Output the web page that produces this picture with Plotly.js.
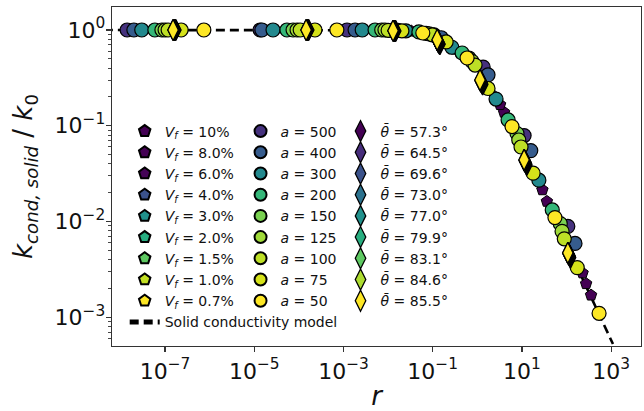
<!DOCTYPE html>
<html><head><meta charset="utf-8">
<script src="https://cdn.plot.ly/plotly-3.0.1.min.js"></script>
<style>html,body{margin:0;padding:0;background:#fff}#plot{width:644px;height:411px}</style>
</head><body><div id="plot"></div>
<script>
// ---- data ----
const modelR = [1e-9, 1e-3, 1e-2, 3.16e-2, 6.3e-2, 0.1, 0.158, 0.251, 0.398, 0.631, 1, 1.58, 2.51, 3.98, 6.31, 10, 31.6, 100, 316, 1100];
const modelK = [1, 1, 0.993, 0.977, 0.933, 0.881, 0.813, 0.708, 0.603, 0.501, 0.398, 0.282, 0.200, 0.138, 0.0912, 0.0575, 0.0182, 0.00575, 0.00182, 0.000525];

const vfLabels = ['10%', '8.0%', '6.0%', '4.0%', '3.0%', '2.0%', '1.5%', '1.0%', '0.7%'];
const vfR = [
  [4.3e-2, 0.41, 3.98, 36.3, 355],
  [3.3e-2, 0.316, 3.24, 28.8, 275],
  [2.7e-2, 0.27, 2.51, 24.0, 229],
  [2.0e-2, 0.20, 1.74, 17.8, 174],
  [2.5e-2, 0.269, 2.63, 24.0],
  [4.9e-2, 0.457, 4.9, 47.9],
  [7.1e-2, 0.646, 7.76, 72.4],
  [9.8e-2, 0.89, 9.55, 89.1],
  [6.0e-2, 0.59, 6.0, 55, 537]
];
const vfK = [
  [0.966, 0.575, 0.138, 0.0162, 0.0017],
  [0.973, 0.63, 0.166, 0.0214, 0.00224],
  [0.977, 0.66, 0.20, 0.027, 0.0029],
  [0.98, 0.75, 0.245, 0.032, 0.0033],
  [0.98, 0.66, 0.19, 0.027],
  [0.955, 0.575, 0.115, 0.0132],
  [0.92, 0.51, 0.083, 0.0095],
  [0.89, 0.43, 0.060, 0.0066],
  [0.93, 0.51, 0.098, 0.011, 0.0011]
];

const aLabels = ['500', '400', '300', '200', '150', '125', '100', '75', '50'];
const aR = [
  [1.41e-8, 1.35e-5, 1.20e-3, 1.17e-2, 0.107, 1.35, 11.2, 107],
  [2.0e-8, 1.48e-5, 1.82e-3, 1.66e-2, 0.155, 1.74, 15.8, 155],
  [3.0e-8, 2.63e-5, 2.63e-3, 2.51e-2, 0.269, 2.63, 24.0],
  [5.9e-8, 5.4e-5, 5.1e-3, 4.9e-2, 0.457, 4.9, 47.9],
  [8.5e-8, 7.4e-5, 7.2e-3, 7.1e-2, 0.646, 7.76, 72.4],
  [1.0e-7, 9.1e-5, 8.5e-3, 8.3e-2, 0.76, 8.5, 79.4],
  [1.17e-7, 1.07e-4, 1.0e-2, 9.8e-2, 0.89, 9.55, 89.1],
  [2.29e-7, 2.29e-4, 2.04e-2, 0.20, 1.74, 17.8, 174],
  [7.4e-7, 7.1e-4, 6.0e-2, 0.59, 6.0, 55, 537]
];
const aK = [
  [1, 1, 1, 0.993, 0.89, 0.41, 0.079, 0.0089],
  [1, 1, 1, 0.99, 0.83, 0.34, 0.055, 0.0059],
  [1, 1, 1, 0.98, 0.66, 0.19, 0.027],
  [1, 1, 1, 0.955, 0.575, 0.115, 0.0132],
  [1, 1, 1, 0.92, 0.51, 0.083, 0.0095],
  [1, 1, 1, 0.91, 0.47, 0.071, 0.0079],
  [1, 1, 0.993, 0.89, 0.43, 0.060, 0.0066],
  [1, 1, 0.98, 0.75, 0.245, 0.032, 0.0033],
  [1, 1, 0.93, 0.51, 0.098, 0.011, 0.0011]
];

const thLabels = ['57.3°', '64.5°', '69.6°', '73.0°', '77.0°', '79.9°', '83.1°', '84.6°', '85.5°'];
const thR = [
  [1.74e-7, 1.66e-4, 1.48e-2, 0.145, 1.32, 12.9, 123],
  [1.70e-7, 1.62e-4, 1.45e-2, 0.142, 1.30, 12.6, 120],
  [1.66e-7, 1.58e-4, 1.41e-2, 0.138, 1.27, 12.3, 118],
  [1.62e-7, 1.55e-4, 1.38e-2, 0.135, 1.24, 12.0, 115],
  [1.59e-7, 1.52e-4, 1.35e-2, 0.133, 1.21, 11.8, 113],
  [1.56e-7, 1.50e-4, 1.33e-2, 0.131, 1.19, 11.6, 111],
  [1.54e-7, 1.48e-4, 1.31e-2, 0.129, 1.17, 11.4, 109],
  [1.52e-7, 1.46e-4, 1.30e-2, 0.127, 1.16, 11.3, 108],
  [1.51e-7, 1.45e-4, 1.29e-2, 0.126, 1.15, 11.2, 107]
];
const thK = [
  [1, 1, 0.975, 0.71, 0.27, 0.039, 0.0042],
  [1, 1, 0.977, 0.72, 0.275, 0.040, 0.0043],
  [1, 1, 0.978, 0.73, 0.28, 0.041, 0.0044],
  [1, 1, 0.979, 0.745, 0.285, 0.042, 0.0045],
  [1, 1, 0.98, 0.755, 0.29, 0.042, 0.0045],
  [1, 1, 0.98, 0.765, 0.292, 0.043, 0.0046],
  [1, 1, 0.98, 0.775, 0.295, 0.043, 0.0046],
  [1, 1, 0.98, 0.78, 0.298, 0.044, 0.0047],
  [1, 1, 0.98, 0.79, 0.30, 0.044, 0.0047]
];

const xTickVals = [1e-7, 1e-5, 1e-3, 1e-1, 1e1, 1e3];
const xTickText = ['10<sup>−7</sup>', '10<sup>−5</sup>', '10<sup>−3</sup>', '10<sup>−1</sup>', '10<sup>1</sup>', '10<sup>3</sup>'];
const yTickVals = [1e-3, 1e-2, 1e-1, 1];
const yTickText = ['10<sup>−3</sup>', '10<sup>−2</sup>', '10<sup>−1</sup>', '10<sup>0</sup>'];

// ---- styles ----
const vfColors = ['#440154', '#440154', '#450457', '#3b528b', '#21918c', '#27ad81', '#5ec962', '#c2df23', '#fde725'];
const aColors = ['#46327e', '#365c8d', '#23898e', '#35b779', '#7ad151', '#a0da39', '#bddf26', '#d5e21a', '#fde725'];
const thColors = ['#440154', '#472d7b', '#3b528b', '#2c728e', '#21918c', '#28ae80', '#5ec962', '#addc30', '#fde725'];
const FONT = 'DejaVu Sans, sans-serif';

const traces = [];
traces.push({
  x: modelR, y: modelK, mode: 'lines', name: 'Solid conductivity model',
  line: {color: '#000', width: 2.6, dash: '9px,5px'},
  legend: 'legend', legendrank: 2000
});
vfLabels.forEach((lab, i) => traces.push({
  x: vfR[i], y: vfK[i], mode: 'markers', name: '<i>V</i><sub><i>f</i></sub> = ' + lab,
  marker: {symbol: 'pentagon', size: 12, color: vfColors[i], line: {color: '#000', width: 1}},
  legend: 'legend', legendrank: 1000
}));
aLabels.forEach((lab, i) => traces.push({
  x: aR[i], y: aK[i], mode: 'markers', name: '<i>a</i> = ' + lab,
  marker: {symbol: 'circle', size: 14, color: aColors[i], line: {color: '#000', width: 1.2}},
  legend: 'legend2'
}));
thLabels.forEach((lab, i) => traces.push({
  x: thR[i], y: thK[i], mode: 'markers', name: '<i>θ̄</i> = ' + lab,
  marker: {symbol: 'diamond-tall', size: 15, color: thColors[i], line: {color: '#000', width: 1.3}},
  legend: 'legend3'
}));

const legBase = {
  bgcolor: 'rgba(0,0,0,0)', borderwidth: 0, xanchor: 'left', yanchor: 'top',
  font: {family: FONT, size: 14, color: '#111'}, tracegroupgap: 0, itemsizing: 'constant'
};
const layout = {
  width: 644, height: 411,
  margin: {l: 112, r: 3, t: 7, b: 65},
  paper_bgcolor: '#fff', plot_bgcolor: '#fff',
  font: {family: FONT, color: '#111'},
  showlegend: true,
  xaxis: {
    type: 'log', range: [-8.19, 3.67],
    tickvals: xTickVals, ticktext: xTickText,
    ticks: 'outside', ticklen: 5, tickwidth: 1.2, tickcolor: '#333',
    showline: true, linecolor: '#333', linewidth: 1.3, mirror: true,
    showgrid: false, zeroline: false,
    tickfont: {family: FONT, size: 22, color: '#111'},
    title: {text: '<i>r</i>', font: {family: FONT, size: 26, color: '#111'}, standoff: 8}
  },
  yaxis: {
    type: 'log', range: [-3.30, 0.24],
    tickvals: yTickVals, ticktext: yTickText,
    ticks: 'outside', ticklen: 5, tickwidth: 1.2, tickcolor: '#333',
    ticklabelstandoff: -4,
    minor: {ticks: 'outside', ticklen: 3, tickwidth: 0.9, tickcolor: '#333', dtick: 'D1', showgrid: false},
    showline: true, linecolor: '#333', linewidth: 1.3, mirror: true,
    showgrid: false, zeroline: false,
    tickfont: {family: FONT, size: 22, color: '#111'},
    title: {text: '<i>k</i><sub><i>cond, solid</i></sub> / <i>k</i><sub>0</sub>', font: {family: FONT, size: 26, color: '#111'}, standoff: 14}
  },
  legend: Object.assign({}, legBase, {x: 0.024, y: 0.68}),
  legend2: Object.assign({}, legBase, {x: 0.243, y: 0.68}),
  legend3: Object.assign({}, legBase, {x: 0.432, y: 0.68, itemsizing: 'trace'})
};
Plotly.newPlot('plot', traces, layout, {staticPlot: true, displayModeBar: false});
</script>
</body></html>
